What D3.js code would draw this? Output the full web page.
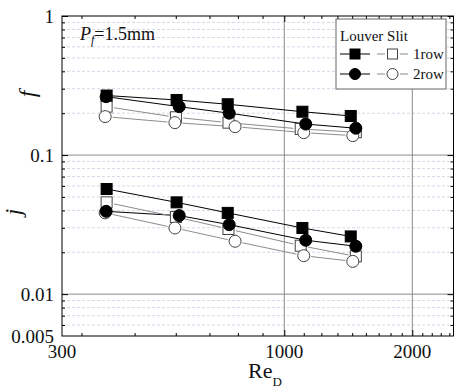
<!DOCTYPE html>
<html>
<head>
<meta charset="utf-8">
<script src="https://cdn.jsdelivr.net/npm/d3@7/dist/d3.min.js"></script>
<style>
  html, body { margin: 0; padding: 0; background: #fff; }
  svg { display: block; font-family: "Liberation Serif", "Times New Roman", serif; }
</style>
</head>
<body>
<svg id="chart" width="455" height="389"></svg>
<script>
// Reynolds numbers for each configuration
const reLouver1 = [382, 558, 736, 1103, 1433];
const reLouver2 = [381, 566, 742, 1123, 1473];
const reSlit1   = [382, 556, 739, 1093, 1473];
const reSlit2   = [379, 553, 766, 1111, 1449];

// Friction factor f
const fLouver1 = [0.268, 0.249, 0.232, 0.205, 0.191];
const fLouver2 = [0.263, 0.223, 0.200, 0.167, 0.156];
const fSlit1   = [0.223, 0.187, 0.171, 0.154, 0.146];
const fSlit2   = [0.189, 0.171, 0.160, 0.145, 0.138];

// Colburn factor j
const jLouver1 = [0.0570, 0.0457, 0.0384, 0.0299, 0.0260];
const jLouver2 = [0.0394, 0.0367, 0.0316, 0.0244, 0.0221];
const jSlit1   = [0.0457, 0.0359, 0.0294, 0.0223, 0.0187];
const jSlit2   = [0.0384, 0.0299, 0.0240, 0.0189, 0.0172];

// Axis ticks
const xTickLabels = [300, 1000, 2000];
const xMajorTicks = [1000, 2000];
const yTickLabels = [1, 0.1, 0.01, 0.005];
const yMajorTicks = [1, 0.1, 0.01];

const width = 455, height = 389;
const plot = { left: 62, right: 453.5, top: 16, bottom: 336 };

const svg = d3.select("#chart");

const x = d3.scaleLog().domain([300, 2500]).range([plot.left, plot.right]);
const y = d3.scaleLog().domain([0.005, 1]).range([plot.bottom, plot.top]);

// Minor ticks: eight minor divisions between linear major steps of 1000
const xMinorTicks = d3.range(1, 23).map(k => k * 1000 / 9)
  .filter(v => v > 300 && v < 2500 && Math.abs(v % 1000) > 1 && Math.abs(v % 1000 - 1000) > 1);
const yMinorTicks = [];
[0.001, 0.01, 0.1].forEach(d => {
  for (let k = 2; k <= 9; k++) {
    const v = d * k;
    if (v > 0.005 && v < 1) yMinorTicks.push(+v.toPrecision(3));
  }
});

const g = svg.append("g");

// dashed minor horizontal gridlines
g.selectAll(".ygrid-minor").data(yMinorTicks).enter().append("line")
  .attr("x1", plot.left).attr("x2", plot.right)
  .attr("y1", d => y(d)).attr("y2", d => y(d))
  .attr("stroke", "#d6d7e8").attr("stroke-width", 1)
  .attr("stroke-dasharray", "3,2");

// solid major gridlines
g.selectAll(".ygrid-major").data(yMajorTicks.filter(v => v < 1)).enter().append("line")
  .attr("x1", plot.left).attr("x2", plot.right)
  .attr("y1", d => y(d)).attr("y2", d => y(d))
  .attr("stroke", "#8a8a8a").attr("stroke-width", 1);
g.selectAll(".xgrid-major").data(xMajorTicks).enter().append("line")
  .attr("y1", plot.top).attr("y2", plot.bottom)
  .attr("x1", d => x(d)).attr("x2", d => x(d))
  .attr("stroke", "#8a8a8a").attr("stroke-width", 1);

// axes with inward ticks on all four sides
function addAxis(axis, transform) {
  const a = g.append("g").attr("transform", transform).call(axis);
  a.select(".domain").remove();
  a.selectAll("text").remove();
  a.selectAll("line").attr("stroke", "#000");
  return a;
}
addAxis(d3.axisBottom(x).tickValues(xMajorTicks).tickSize(-6).tickSizeOuter(0), `translate(0,${plot.bottom})`);
addAxis(d3.axisBottom(x).tickValues(xMinorTicks).tickSize(-3).tickSizeOuter(0), `translate(0,${plot.bottom})`);
addAxis(d3.axisTop(x).tickValues(xMajorTicks).tickSize(-6).tickSizeOuter(0), `translate(0,${plot.top})`);
addAxis(d3.axisTop(x).tickValues(xMinorTicks).tickSize(-3).tickSizeOuter(0), `translate(0,${plot.top})`);
addAxis(d3.axisLeft(y).tickValues(yMajorTicks).tickSize(-6).tickSizeOuter(0), `translate(${plot.left},0)`);
addAxis(d3.axisLeft(y).tickValues(yMinorTicks).tickSize(-3).tickSizeOuter(0), `translate(${plot.left},0)`);
addAxis(d3.axisRight(y).tickValues(yMajorTicks).tickSize(-6).tickSizeOuter(0), `translate(${plot.right},0)`);
addAxis(d3.axisRight(y).tickValues(yMinorTicks).tickSize(-3).tickSizeOuter(0), `translate(${plot.right},0)`);

// plot frame
g.append("rect")
  .attr("x", plot.left).attr("y", plot.top)
  .attr("width", plot.right - plot.left).attr("height", plot.bottom - plot.top)
  .attr("fill", "none").attr("stroke", "#000").attr("stroke-width", 1);

// tick labels
g.selectAll(".xlab").data(xTickLabels).enter().append("text")
  .attr("x", d => x(d)).attr("y", 358)
  .attr("text-anchor", "middle").attr("font-size", 19).attr("fill", "#111")
  .text(d => d);
g.selectAll(".ylab").data(yTickLabels).enter().append("text")
  .attr("x", 54).attr("y", d => y(d) + 6.5)
  .attr("text-anchor", "end").attr("font-size", 19).attr("fill", "#111")
  .text(d => d);

// axis titles
const xt = g.append("text").attr("x", 248).attr("y", 378).attr("font-size", 22).attr("fill", "#111");
xt.append("tspan").text("Re");
xt.append("tspan").attr("font-size", 13).attr("dy", 8).text("D");

g.append("text").attr("transform", "translate(35,94) rotate(-90)")
  .attr("text-anchor", "middle").attr("font-size", 24).attr("font-style", "italic").attr("fill", "#111")
  .text("f");
g.append("text").attr("transform", "translate(21,212) rotate(-90)")
  .attr("text-anchor", "middle").attr("font-size", 23).attr("font-style", "italic").attr("fill", "#111")
  .text("j");

// parameter annotation
const pt = g.append("text").attr("x", 80).attr("y", 40).attr("font-size", 18).attr("fill", "#111");
pt.append("tspan").attr("font-style", "italic").text("P");
pt.append("tspan").attr("font-style", "italic").attr("font-size", 12).attr("dy", 4).text("f");
pt.append("tspan").attr("dy", -4).text("=1.5mm");

// series
const series = [
  { re: reLouver1, f: fLouver1, j: jLouver1, shape: "square", filled: true },
  { re: reLouver2, f: fLouver2, j: jLouver2, shape: "circle", filled: true },
  { re: reSlit1,   f: fSlit1,   j: jSlit1,   shape: "square", filled: false },
  { re: reSlit2,   f: fSlit2,   j: jSlit2,   shape: "circle", filled: false }
];

const markerSize = 11;

// line segments shortened at each end so they stop short of the markers
function segments(pts, gap) {
  const segs = [];
  for (let i = 0; i < pts.length - 1; i++) {
    const [x1, y1] = pts[i], [x2, y2] = pts[i + 1];
    const dx = x2 - x1, dy = y2 - y1, len = Math.hypot(dx, dy);
    if (len <= 2 * gap) continue;
    const ux = dx / len, uy = dy / len;
    segs.push([x1 + ux * gap, y1 + uy * gap, x2 - ux * gap, y2 - uy * gap]);
  }
  return segs;
}

function drawMarker(sel, shape, filled, cx, cy, size) {
  if (shape === "square") {
    sel.append("rect")
      .attr("x", cx - size / 2).attr("y", cy - size / 2)
      .attr("width", size).attr("height", size)
      .attr("fill", filled ? "#000" : "#fff")
      .attr("stroke", filled ? "#000" : "#444").attr("stroke-width", 1);
  } else {
    sel.append("circle")
      .attr("cx", cx).attr("cy", cy).attr("r", size / 2 + 0.5)
      .attr("fill", filled ? "#000" : "#fff")
      .attr("stroke", filled ? "#000" : "#444").attr("stroke-width", 1);
  }
}

const lineLayer = g.append("g");
const markLayer = g.append("g");

// lines for both factor groups first, then markers on top
["f", "j"].forEach(key => {
  series.forEach(s => {
    const pts = s.re.map((r, i) => [x(r), y(s[key][i])]);
    const gap = s.filled ? markerSize / 2 : markerSize / 2 + 2;
    lineLayer.selectAll(null).data(segments(pts, gap)).enter().append("line")
      .attr("x1", d => d[0]).attr("y1", d => d[1]).attr("x2", d => d[2]).attr("y2", d => d[3])
      .attr("stroke", s.filled ? "#000" : "#8c8c8c").attr("stroke-width", 1);
  });
});
["f", "j"].forEach(key => {
  [2, 3, 0, 1].forEach(idx => {
    const s = series[idx];
    s.re.forEach((r, i) => drawMarker(markLayer, s.shape, s.filled, x(r), y(s[key][i]), markerSize));
  });
});

// legend
const lg = g.append("g");
lg.append("rect").attr("x", 336).attr("y", 19).attr("width", 110).attr("height", 70)
  .attr("fill", "#fff").attr("stroke", "#666").attr("stroke-width", 1);
lg.append("text").attr("x", 340).attr("y", 41).attr("font-size", 15).attr("fill", "#111").text("Louver Slit");
const legendRows = [
  { label: "1row", filledIdx: 0, openIdx: 2, y: 54 },
  { label: "2row", filledIdx: 1, openIdx: 3, y: 74 }
];
legendRows.forEach(row => {
  const sf = series[row.filledIdx], so = series[row.openIdx];
  lg.append("line").attr("x1", 340).attr("x2", 370).attr("y1", row.y).attr("y2", row.y)
    .attr("stroke", "#000").attr("stroke-width", 1);
  drawMarker(lg, sf.shape, true, 355, row.y, 10);
  lg.append("line").attr("x1", 377).attr("x2", 385).attr("y1", row.y).attr("y2", row.y)
    .attr("stroke", "#8c8c8c").attr("stroke-width", 1);
  lg.append("line").attr("x1", 400).attr("x2", 408).attr("y1", row.y).attr("y2", row.y)
    .attr("stroke", "#8c8c8c").attr("stroke-width", 1);
  drawMarker(lg, so.shape, false, 392.5, row.y, 10);
  lg.append("text").attr("x", 413).attr("y", row.y + 5).attr("font-size", 15).attr("fill", "#111").text(row.label);
});
</script>
</body>
</html>
